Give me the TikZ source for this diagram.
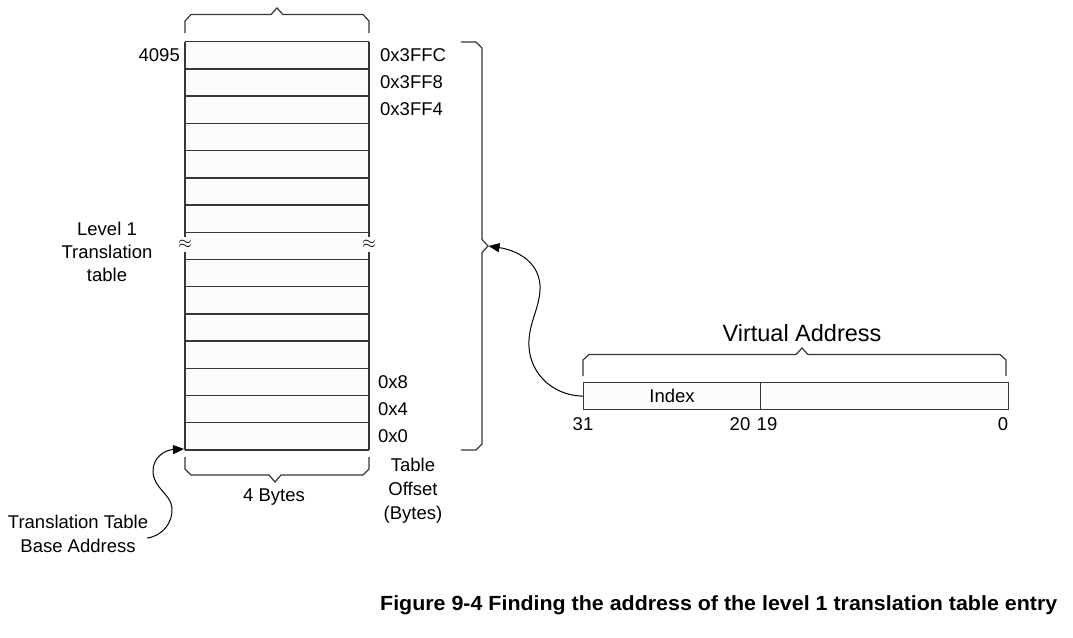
\documentclass[tikz,border=0pt]{standalone}
\usepackage{fontspec}
\setmainfont{Liberation Sans}
\usepackage{graphicx}
\usetikzlibrary{arrows.meta}
\definecolor{cellfill}{RGB}{253,251,251}
\definecolor{linegray}{RGB}{55,55,55}
\begin{document}
\begin{tikzpicture}[x=1pt,y=-1pt,
  lbl/.style={font=\fontsize{18.5}{23}\selectfont, inner sep=0pt},
  tline/.style={draw=linegray, line width=1.4pt},
  brace/.style={draw=linegray, line width=1.2pt, line join=miter},
  arr/.style={draw=black, line width=1pt, -{Triangle[length=11pt,width=9pt]}},
  field/.style={draw=linegray, line width=1.2pt, fill=cellfill, minimum height=27pt, inner sep=0pt, anchor=north west, font=\fontsize{18.5}{23}\selectfont}]
\useasboundingbox (0,0) rectangle (1073,637);
\fill[white] (0,0) rectangle (1073,637);

% translation table
\fill[cellfill] (185,41.7) rectangle (369,450);
\foreach \k in {0,...,15} \draw[tline] (185,41.7+27.22*\k) -- (369,41.7+27.22*\k);
\draw[tline] (185,41.7) -- (185,237) (185,252) -- (185,450);
\draw[tline] (369,41.7) -- (369,237) (369,252) -- (369,450);
\node[inner sep=0pt, font=\fontsize{19}{19}\selectfont] (brkL) at (185,244.5) {$\approx$};
\node[inner sep=0pt, font=\fontsize{19}{19}\selectfont] (brkR) at (369,244.5) {$\approx$};
\coordinate (tblbase) at (184,449);

% row labels
\node[lbl, anchor=east] (n4095) at (180,55) {4095};
\node[lbl, anchor=west] (o3ffc) at (380,55) {0x3FFC};
\node[lbl, anchor=west] (o3ff8) at (380,82.5) {0x3FF8};
\node[lbl, anchor=west] (o3ff4) at (380,109.5) {0x3FF4};
\node[lbl, anchor=west] (o8) at (378,382) {0x8};
\node[lbl, anchor=west] (o4) at (378,409) {0x4};
\node[lbl, anchor=west] (o0) at (378,436.5) {0x0};

\node[lbl, align=center] (lvl1) at (107,252) {Level 1\\Translation\\table};
\node[lbl, align=center, font=\fontsize{18.5}{24}\selectfont] (toff) at (413,491) {Table\\Offset\\(Bytes)};
\node[lbl] (bytes4) at (274,497) {4 Bytes};
\node[lbl, align=center, font=\fontsize{18.5}{24}\selectfont] (ttba) at (78,534) {Translation Table\\Base Address};
\coordinate (ttbaout) at (147,538);

% braces
\draw[brace] (185,33) -- (185,21) -- (191,14.5) -- (271,14.5) -- (277,8) -- (283,14.5) -- (363,14.5) -- (369,21) -- (369,33);
\draw[brace] (185,457) -- (185,469) -- (191,475) -- (269,475) -- (275,482) -- (281,475) -- (363,475) -- (369,469) -- (369,457);
\draw[brace] (461,42) -- (476,42) -- (482,48) -- (482,239.5) -- (488,246) -- (482,252.5) -- (482,444) -- (476,450) -- (461,450);
\coordinate (bracetip) at (488.5,246);

% virtual address
\node[field, minimum width=177pt] (idx) at (583,382) {Index};
\node[field, minimum width=248pt] (low) at (760,382) {};
\draw[brace] (583,376) -- (583,360) -- (589,354.5) -- (796,354.5) -- (802,348) -- (808,354.5) -- (1000,354.5) -- (1006,360) -- (1006,376);
\node[inner sep=0pt, font=\fontsize{23.5}{28}\selectfont] (vatitle) at (802,333) {Virtual Address};
\node[lbl] (b31) at (583,424) {31};
\node[lbl] (b20) at (740,424) {20};
\node[lbl] (b19) at (767,424) {19};
\node[lbl] (b0) at (1003,424) {0};

% arrows
\draw[arr] (idx.west) .. controls (550,395.5) and (527,370) .. (529,340)
  .. controls (530,320) and (541,305) .. (540,285)
  .. controls (538,260) and (515,250) .. (bracetip);
\draw[arr] (ttbaout) .. controls (163,536) and (173,522) .. (172,508)
  .. controls (171,494) and (153,488) .. (153,471)
  .. controls (153,458) and (164,450) .. (tblbase);

% caption
\node[anchor=west, inner sep=0pt] (caption) at (380,605) {\resizebox{677pt}{\height}{\fontsize{20.5}{24}\selectfont\bfseries Figure 9-4 Finding the address of the level 1 translation table entry}};
\end{tikzpicture}
\end{document}
